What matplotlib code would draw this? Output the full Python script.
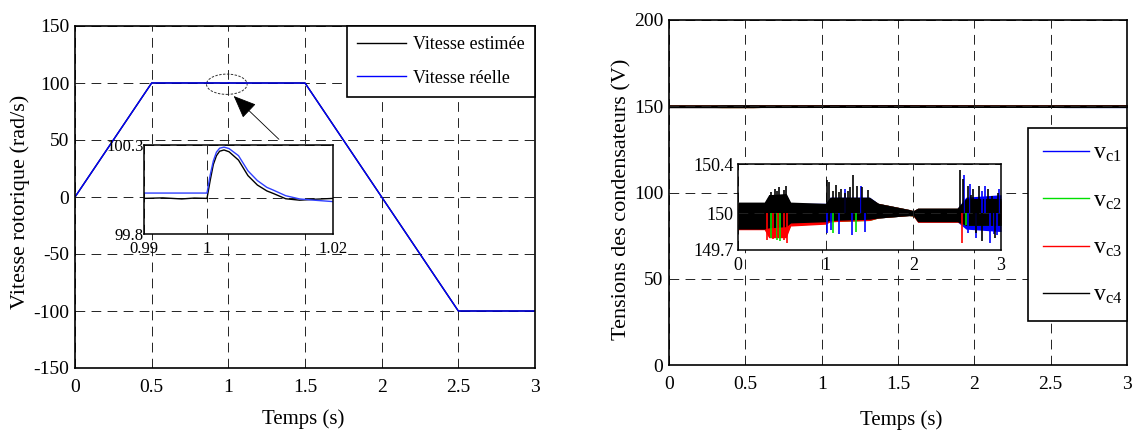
import matplotlib
matplotlib.use("Agg")
import matplotlib.pyplot as plt
from matplotlib.patches import Ellipse
from matplotlib.lines import Line2D

# ---------------------------------------------------------------- data
# Rotor speed (rad/s): ramp up, load step at t = 1 s, ramp down to -100
t_vitesse = [0.0, 0.5, 0.99, 0.993, 0.996, 0.998, 1.0, 1.0005, 1.001, 1.0015,
             1.002, 1.0027, 1.0035, 1.005, 1.0065, 1.008, 1.0095, 1.0105,
             1.0125, 1.0147, 1.017, 1.02, 1.5, 2.5, 3.0]
vitesse_reelle = [0.0, 100.03, 100.03, 100.03, 100.03, 100.03, 100.03, 100.13,
                  100.21, 100.26, 100.282, 100.288, 100.28, 100.24, 100.155,
                  100.1, 100.062, 100.047, 100.015, 99.997, 99.99, 99.982,
                  99.982, -100.0, -100.0]
vitesse_estimee = [0.0, 100.0, 100.0, 100.003, 99.997, 100.002, 100.0, 100.1,
                   100.19, 100.24, 100.265, 100.272, 100.262, 100.215, 100.128,
                   100.075, 100.042, 100.028, 99.998, 99.99, 99.995, 100.0,
                   100.0, -100.0, -100.0]

# Capacitor voltages (V): envelope of the switching ripple around 150 V
t_env = [0.0, 0.3, 0.35, 0.55, 0.6, 1.0, 1.05, 1.5, 1.6, 1.95, 2.0, 2.05,
         2.5, 2.6, 3.0]
vc1_haut = [150.08, 150.08, 150.14, 150.15, 150.08, 150.08, 150.13, 150.13,
            150.08, 150.03, 150.02, 150.04, 150.04, 150.13, 150.15]
vc1_bas = [149.87, 149.87, 149.87, 149.88, 149.90, 149.92, 149.935, 149.945,
           149.96, 149.98, 149.98, 149.93, 149.93, 149.87, 149.85]
vc2_haut = [150.08, 150.08, 150.13, 150.14, 150.08, 150.07, 150.11, 150.12,
            150.08, 150.03, 150.02, 150.04, 150.04, 150.10, 150.10]
vc2_bas = [149.87, 149.87, 149.81, 149.82, 149.9, 149.915, 149.93, 149.94,
           149.96, 149.98, 149.975, 149.93, 149.93, 149.90, 149.90]
vc3_haut = [150.08, 150.08, 150.13, 150.14, 150.08, 150.07, 150.11, 150.12,
            150.08, 150.03, 150.02, 150.04, 150.04, 150.10, 150.10]
vc3_bas = [149.865, 149.865, 149.80, 149.80, 149.895, 149.91, 149.93, 149.94,
           149.96, 149.98, 149.975, 149.925, 149.925, 149.91, 149.91]
vc4_haut = [150.09, 150.09, 150.15, 150.16, 150.09, 150.08, 150.13, 150.13,
            150.08, 150.03, 150.02, 150.04, 150.04, 150.12, 150.12]
vc4_bas = [149.87, 149.87, 149.88, 149.89, 149.92, 149.93, 149.94, 149.95,
           149.96, 149.98, 149.98, 149.93, 149.93, 149.90, 149.90]

# Isolated peaks of the ripple
vc1_pic_t = [1.02, 1.06, 1.15, 1.22, 1.30, 1.40, 1.45, 2.58, 2.62, 2.65, 2.72,
             2.78, 2.82, 2.88, 2.92, 2.95, 2.98]
vc1_pic_v = [149.84, 149.86, 149.83, 150.20, 149.82, 150.22, 149.85, 150.31,
             149.84, 150.24, 149.80, 150.18, 150.22, 149.76, 149.83, 149.82,
             150.20]
vc2_pic_t = [0.38, 0.45, 0.48, 1.08, 1.35, 2.60]
vc2_pic_v = [149.80, 149.78, 149.77, 149.84, 149.85, 149.90]
vc3_pic_t = [0.33, 0.40, 0.46, 0.52, 0.56, 2.55]
vc3_pic_v = [149.78, 149.79, 149.80, 149.78, 149.76, 149.76]
vc4_pic_t = [0.36, 0.38, 0.42, 0.45, 0.47, 0.52, 0.55, 1.01, 1.04, 1.08, 1.12,
             1.15, 1.18, 1.22, 1.25, 1.28, 1.31, 1.36, 1.42, 1.48, 2.53, 2.57,
             2.62, 2.66, 2.68, 2.72, 2.75, 2.78, 2.85, 2.90, 2.93, 2.97]
vc4_pic_v = [150.15, 150.17, 150.20, 150.18, 150.21, 150.19, 150.22, 150.27,
             150.25, 150.18, 150.23, 150.17, 150.20, 150.16, 150.18, 150.21,
             150.31, 150.22, 150.21, 150.19, 150.35, 150.28, 150.22, 150.15,
             150.20, 149.84, 150.22, 149.77, 150.20, 150.14, 149.80, 150.16]

x_ticks = [0, 0.5, 1, 1.5, 2, 2.5, 3]
x_tick_labels = ["0", "0.5", "1", "1.5", "2", "2.5", "3"]
y_ticks_vitesse = [-150, -100, -50, 0, 50, 100, 150]
y_ticks_tension = [0, 50, 100, 150, 200]

# ---------------------------------------------------------------- style
plt.rcParams["font.family"] = ["Liberation Serif", "DejaVu Serif"]
plt.rcParams["mathtext.fontset"] = "custom"
plt.rcParams["mathtext.rm"] = "Liberation Serif"
plt.rcParams["mathtext.it"] = "Liberation Serif:italic"
plt.rcParams["axes.unicode_minus"] = False

W, H = 1139, 433
fig = plt.figure(figsize=(W / 100, H / 100), dpi=100)


def rect(x0, y0, x1, y1):
    """Axes rectangle from pixel corners (origin at top-left)."""
    return [x0 / W, 1 - y1 / H, (x1 - x0) / W, (y1 - y0) / H]


GRID = dict(color="#222222", linestyle=(0, (10, 6.5)), linewidth=0.7)
TICK_FS = 14


def style_axes(ax, lw=1.2):
    for s in ax.spines.values():
        s.set_linewidth(lw)
        s.set_color("black")
    ax.grid(True, **GRID)
    ax.tick_params(direction="in", length=0, labelsize=TICK_FS)


# ------------------------------------------------ left: rotor speed
ax1 = fig.add_axes(rect(75, 26, 535, 368))
ax1.plot(t_vitesse, vitesse_estimee, color="black", lw=1.0, label="Vitesse estimée")
ax1.plot(t_vitesse, vitesse_reelle, color="#0000ff", lw=1.0, label="Vitesse réelle")
ax1.set_xlim(0, 3)
ax1.set_ylim(-150, 150)
ax1.set_xticks(x_ticks, x_tick_labels)
ax1.set_yticks(y_ticks_vitesse)
style_axes(ax1)
ax1.tick_params(axis="x", pad=8)
ax1.tick_params(axis="y", pad=4)
ax1.set_xlabel("Temps (s)", fontsize=15)
ax1.xaxis.set_label_coords(0.496, -0.122)
ax1.xaxis.label.set_va("top")
ax1.set_ylabel("Vitesse rotorique (rad/s)", fontsize=16)
ax1.yaxis.set_label_coords(-0.098, 0.485)

leg1 = ax1.legend(loc="upper left",
                  bbox_to_anchor=(347 / W, 1 - 99 / H, 188 / W, 73 / H),
                  bbox_transform=fig.transFigure, mode="expand",
                  borderaxespad=0, fontsize=13, handlelength=2.7,
                  handletextpad=0.35, labelspacing=0.89, borderpad=0.58,
                  fancybox=False, framealpha=1, edgecolor="black")
leg1.get_frame().set_linewidth(1.2)

# zoomed region marker and arrow
ax1.add_patch(Ellipse((0.99, 98.9), 0.265, 17.8, fill=False,
                      linestyle=(0, (2.5, 1.5)), linewidth=0.7, color="#333333"))
ax1.annotate("", xy=(1.035, 88.6), xytext=(1.33, 50.6),
             arrowprops=dict(arrowstyle="-|>,head_length=1.2,head_width=0.5",
                             color="black", lw=0.6, shrinkA=0, shrinkB=0,
                             mutation_scale=12))

# inset: detail around the load step
ins1 = fig.add_axes(rect(144, 145, 333, 234))
ins1.plot(t_vitesse, vitesse_estimee, color="black", lw=1.0)
ins1.plot(t_vitesse, vitesse_reelle, color="#3040ff", lw=1.0)
ins1.set_xlim(0.99, 1.02)
ins1.set_ylim(99.8, 100.3)
ins1.set_xticks([0.99, 1.0, 1.02], ["0.99", "1", "1.02"])
ins1.set_yticks([99.8, 100.0, 100.3], ["99.8", "", "100.3"])
style_axes(ins1, lw=1.1)
ins1.tick_params(labelsize=12)
ins1.tick_params(axis="x", pad=5)
ins1.tick_params(axis="y", pad=0)

# ------------------------------------------------ right: capacitor voltages
series = [
    ("$\\mathrm{v}_{\\mathrm{c1}}$", "#0000ff", vc1_haut, vc1_bas, vc1_pic_t, vc1_pic_v),
    ("$\\mathrm{v}_{\\mathrm{c2}}$", "#00e000", vc2_haut, vc2_bas, vc2_pic_t, vc2_pic_v),
    ("$\\mathrm{v}_{\\mathrm{c3}}$", "#ff0000", vc3_haut, vc3_bas, vc3_pic_t, vc3_pic_v),
    ("$\\mathrm{v}_{\\mathrm{c4}}$", "#000000", vc4_haut, vc4_bas, vc4_pic_t, vc4_pic_v),
]

ax2 = fig.add_axes(rect(669, 20, 1127, 365))
for name, col, haut, bas, pt, pv in series:
    ax2.fill_between(t_env, bas, haut, color=col, linewidth=1.6, edgecolor=col)
ax2.set_xlim(0, 3)
ax2.set_ylim(0, 200)
ax2.set_xticks(x_ticks, x_tick_labels)
ax2.set_yticks(y_ticks_tension)
style_axes(ax2)
ax2.tick_params(axis="x", pad=8)
ax2.tick_params(axis="y", pad=4)
ax2.set_xlabel("Temps (s)", fontsize=15)
ax2.xaxis.set_label_coords(0.506, -0.13)
ax2.xaxis.label.set_va("top")
ax2.set_ylabel("Tensions des condensateurs (V)", fontsize=16)
ax2.yaxis.set_label_coords(-0.081, 0.48)

handles = [Line2D([], [], color=c, lw=1.0) for _, c, *_ in series]
leg2 = ax2.legend(handles, [s[0] for s in series], loc="upper left",
                  bbox_to_anchor=(1028 / W, 1 - 320 / H, 99 / W, 192 / H),
                  bbox_transform=fig.transFigure, mode="expand",
                  borderaxespad=0, fontsize=17, handlelength=1.95,
                  handletextpad=0.2, labelspacing=1.08, borderpad=0.62,
                  fancybox=False, framealpha=1, edgecolor="black")
leg2.get_frame().set_linewidth(1.2)

# inset: ripple detail
ins2 = fig.add_axes(rect(738, 164, 1001, 250))
for name, col, haut, bas, pt, pv in series:
    ins2.fill_between(t_env, bas, haut, color=col, linewidth=0)
    ins2.vlines(pt, 150.0, pv, color=col, linewidth=1.2)
ins2.set_xlim(0, 3)
ins2.set_ylim(149.7, 150.4)
ins2.set_xticks([0, 1, 2, 3], ["0", "1", "2", "3"])
ins2.set_yticks([149.7, 150.0, 150.4], ["149.7", "150", "150.4"])
style_axes(ins2, lw=1.1)
ins2.tick_params(labelsize=13)
ins2.tick_params(axis="x", pad=5)
ins2.tick_params(axis="y", pad=3)

fig.savefig("out.png", dpi=100)
